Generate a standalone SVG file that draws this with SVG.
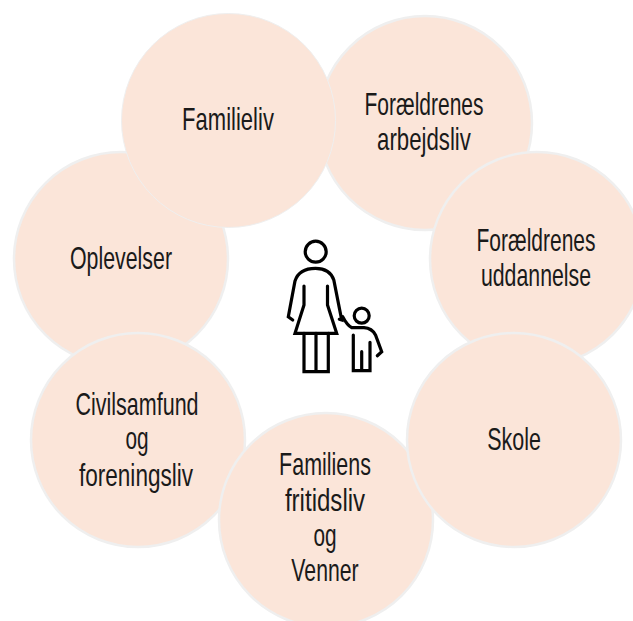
<svg xmlns="http://www.w3.org/2000/svg" width="633" height="621" viewBox="0 0 633 621">
<style>
.c{fill:#fbe5d9;stroke:#efefef;stroke-width:2.5}
.f{stroke-width:1}
.t{font-family:"Liberation Sans",Arial,sans-serif;font-size:32px;fill:#1a1a1a;text-anchor:middle}
.i{fill:none;stroke:#000;stroke-width:3.2;stroke-linecap:round;stroke-linejoin:miter}
</style>
<rect width="633" height="621" fill="#fff"/>
<g id="node-arbejdsliv"><circle class="c" cx="425" cy="123" r="107"/>
<text class="t" transform="translate(424 115) scale(.68 1)" textLength="175" lengthAdjust="spacingAndGlyphs">Forældrenes</text>
<text class="t" transform="translate(424 150) scale(.68 1)" textLength="138" lengthAdjust="spacingAndGlyphs">arbejdsliv</text></g>
<g id="node-uddannelse"><circle class="c" cx="537" cy="259" r="107"/>
<text class="t" transform="translate(536 251) scale(.68 1)" textLength="175" lengthAdjust="spacingAndGlyphs">Forældrenes</text>
<text class="t" transform="translate(536 286) scale(.68 1)" textLength="162" lengthAdjust="spacingAndGlyphs">uddannelse</text></g>
<g id="node-oplevelser"><circle class="c" cx="121" cy="259" r="107"/>
<text class="t" transform="translate(121 269) scale(.68 1)" textLength="150" lengthAdjust="spacingAndGlyphs">Oplevelser</text></g>
<g id="node-civilsamfund"><circle class="c" cx="138" cy="440" r="107"/>
<text class="t" transform="translate(137 415) scale(.68 1)" textLength="181" lengthAdjust="spacingAndGlyphs">Civilsamfund</text>
<text class="t" transform="translate(137 449) scale(.68 1)" textLength="34" lengthAdjust="spacingAndGlyphs">og</text>
<text class="t" transform="translate(136 486) scale(.68 1)" textLength="168" lengthAdjust="spacingAndGlyphs">foreningsliv</text></g>
<g id="node-fritidsliv"><circle class="c" cx="326" cy="520" r="107"/>
<text class="t" transform="translate(325 475) scale(.68 1)" textLength="135" lengthAdjust="spacingAndGlyphs">Familiens</text>
<text class="t" transform="translate(325 511) scale(.68 1)" textLength="118" lengthAdjust="spacingAndGlyphs">fritidsliv</text>
<text class="t" transform="translate(325 546) scale(.68 1)" textLength="34" lengthAdjust="spacingAndGlyphs">og</text>
<text class="t" transform="translate(325 581) scale(.68 1)" textLength="99" lengthAdjust="spacingAndGlyphs">Venner</text></g>
<g id="node-skole"><circle class="c" cx="514" cy="440" r="107"/>
<text class="t" transform="translate(514 450) scale(.68 1)" textLength="79" lengthAdjust="spacingAndGlyphs">Skole</text></g>
<g id="node-familieliv"><circle class="c f" cx="228.500" cy="120.500" r="107"/>
<text class="t" transform="translate(228 130) scale(.68 1)" textLength="135" lengthAdjust="spacingAndGlyphs">Familieliv</text></g>
<g id="figure" class="i">
<circle cx="315.700" cy="251.700" r="10.500"/>
<path d="M292.700 320 L288.300 316.700 L295 281 Q299 268.300 315.500 268.300 Q330 268.300 333.800 280 L341.700 320 L339.300 319.300"/>
<path d="M304 286 V305 L295 333.300 H336.700 L327.500 305 V286"/>
<path d="M304 333.300 V371.700 H328.300 V333.300 M316 333.300 V371.700"/>
<circle cx="361.700" cy="315.700" r="7.500"/>
<path d="M342.700 316.700 Q347 325 351.700 327.700 H364 Q372 328.300 375.500 335 L381.700 351.700 L377.300 355.700"/>
<path d="M353.300 335 V370.700 H370 V342.300 M361.700 351.700 V370.700"/>
</g>
</svg>
